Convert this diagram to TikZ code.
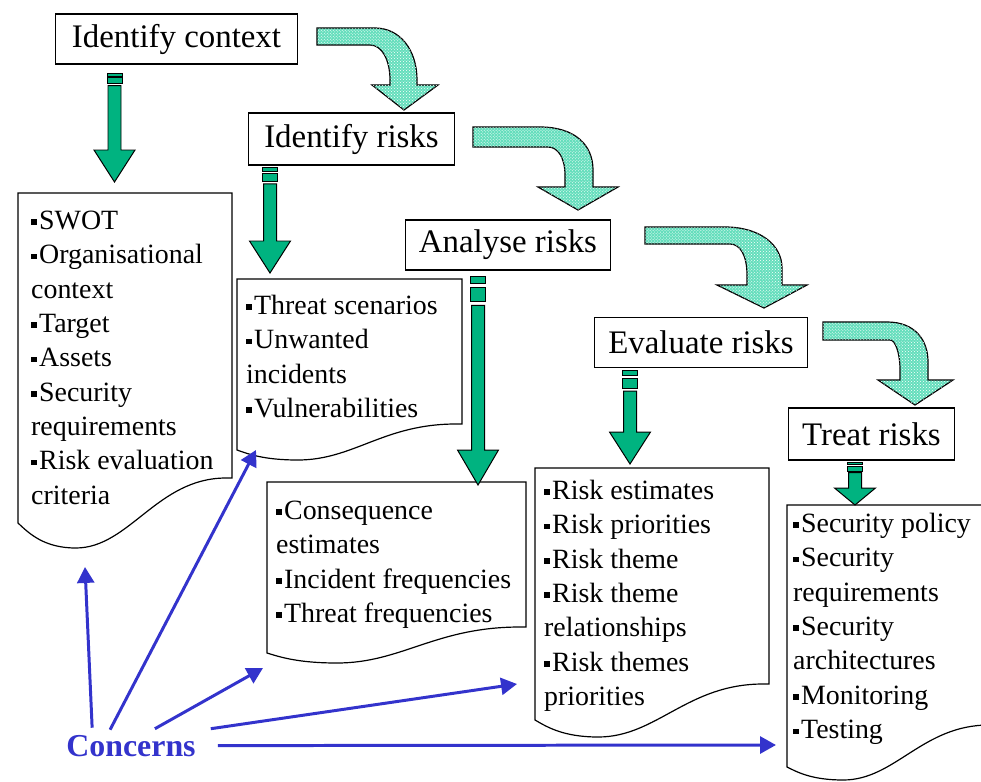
\documentclass[tikz,border=0pt]{standalone}
\usepackage{fontspec}
\setmainfont{Liberation Serif}
\usetikzlibrary{arrows.meta,patterns}
\definecolor{stripegreen}{RGB}{0,179,128}
\definecolor{bendgreen}{RGB}{100,222,188}
\definecolor{concernblue}{RGB}{51,51,204}
\def\hw{6.5}
\def\hhw{20.5}
\newcommand{\bul}{\strut\raisebox{4.5pt}{\rule{5.5pt}{5.5pt}}\kern2.5pt}
\newcommand{\stripedown}[5]{%
  \draw[stripe] (#1-7.5,#2) rectangle (#1+7.5,#2+#4);
  \draw[stripe] (#1-7.5,#2+1.6*#4) rectangle (#1+7.5,#2+3.6*#4);
  \draw[stripe] (#1-\hw,#2+4.2*#4) -- (#1+\hw,#2+4.2*#4) -- (#1+\hw,#3-#5) -- (#1+\hhw,#3-#5)
    -- (#1,#3) -- (#1-\hhw,#3-#5) -- (#1-\hw,#3-#5) -- cycle;}
\newcommand{\docbox}[6]{%
  \draw[doc] (#1,#2) -- (#3,#2) -- (#3,#4) -- (#3-6,#4)
    .. controls ({#3-0.35*(#3-#1)},#4) and ({#1+0.52*(#3-#1)},#5+#6) .. ({#1+0.27*(#3-#1)},#5+#6)
    .. controls ({#1+0.12*(#3-#1)},#5+#6) and ({#1+0.05*(#3-#1)},#5+0.4*#6) .. (#1,#5) -- cycle;}

\begin{document}
\begin{tikzpicture}[x=1bp,y=-1bp,
    title/.style={draw,line width=1.5pt,fill=white,inner sep=0pt,minimum height=50pt,font=\fontsize{33}{40}\selectfont},
    doc/.style={draw,line width=1.2pt,fill=white},
    doctext/.style={anchor=north west,inner sep=0pt,align=left,font=\fontsize{28}{34.5}\selectfont},
    stripe/.style={draw,line width=1pt,fill=stripegreen},
    bendarrow/.style={draw,line width=1.2pt,fill=bendgreen,postaction={pattern=crosshatch dots,pattern color=white}},
    concern/.style={concernblue,line width=3pt,-{Triangle[length=16pt,width=17pt]}}
  ]
  \useasboundingbox (0,0) rectangle (981,782);

  \docbox{18}{193}{232}{478}{523}{25}
  \docbox{237}{279}{462}{424}{450}{10}
  \docbox{267}{482}{526}{627}{653}{10}
  \docbox{535}{468}{769}{684}{720}{17}
  \docbox{787}{505}{995}{725}{767}{13}

  \node[doctext] (d1) at (31,205) {\bul SWOT\\\bul Organisational\\context\\\bul Target\\\bul Assets\\\bul Security\\requirements\\\bul Risk evaluation\\criteria};
  \node[doctext] (d2) at (246,290) {\bul Threat scenarios\\\bul Unwanted\\incidents\\\bul Vulnerabilities};
  \node[doctext] (d3) at (276,495) {\bul Consequence\\estimates\\\bul Incident frequencies\\\bul Threat frequencies};
  \node[doctext] (d4) at (544,475) {\bul Risk estimates\\\bul Risk priorities\\\bul Risk theme\\\bul Risk theme\\relationships\\\bul Risk themes\\priorities};
  \node[doctext] (d5) at (793,508) {\bul Security policy\\\bul Security\\requirements\\\bul Security\\architectures\\\bul Monitoring\\\bul Testing};

  \stripedown{114.5}{73}{182}{3}{32}
  \stripedown{270}{167}{273}{4}{32}
  \stripedown{478}{276}{485}{7}{35}
  \stripedown{630}{370}{464}{5}{32}
  \stripedown{855}{462}{505}{2.5}{17}

  \draw[bendarrow] (317,28) -- (375,28) .. controls (400,28) and (417,50) .. (417,80) -- (417,85) -- (438,85) -- (404,110)
    -- (372,85) -- (390,85) -- (390,80) .. controls (390,60) and (382,45) .. (370,45) -- (317,45) -- cycle;
  \draw[bendarrow] (473,127) -- (540,127) .. controls (575,127) and (593,145) .. (593,170) -- (593,187) -- (618,187) -- (578,210)
    -- (538,187) -- (565,187) -- (565,175) .. controls (565,158) and (558,147) .. (548,147) -- (473,147) -- cycle;
  \draw[bendarrow] (645,227) -- (725,227) .. controls (760,227) and (782,245) .. (782,268) -- (782,285) -- (807,285) -- (764,308)
    -- (717,285) -- (747,285) -- (747,275) .. controls (747,255) and (740,244) .. (730,244) -- (645,244) -- cycle;
  \draw[bendarrow] (823,322) -- (887,322) .. controls (915,322) and (928,340) .. (928,362) -- (928,380) -- (953,380) -- (915,405)
    -- (878,380) -- (900,380) -- (900,370) .. controls (900,352) and (895,340) .. (890,340) -- (823,340) -- cycle;

  \node[title,minimum width=243pt] (ctx) at (176.5,39) {Identify context};
  \node[title,minimum width=207pt,minimum height=52pt] (idr) at (351.5,139) {Identify risks};
  \node[title,minimum width=206pt] (anr) at (508,245) {Analyse risks};
  \node[title,minimum width=214pt] (evr) at (701,342.5) {Evaluate risks};
  \node[title,minimum width=167pt,minimum height=52pt] (trr) at (871.5,434) {Treat risks};

  \node[anchor=base,inner sep=2pt,text=concernblue,font=\fontsize{32}{36}\selectfont\bfseries] (con) at (131,756) {Concerns};
  \coordinate (t1) at (85,567);
  \coordinate (t2) at (256,450);
  \coordinate (t3) at (263,668);
  \coordinate (t4) at (517,684);
  \coordinate (t5) at (776,745);
  \draw[concern] ([xshift=-39pt,yshift=5pt]con.north) -- (t1);
  \draw[concern] ([xshift=-21pt,yshift=3pt]con.north) -- (t2);
  \draw[concern] ([xshift=24pt,yshift=4pt]con.north) -- (t3);
  \draw[concern] ([xshift=13pt,yshift=4pt]con.north east) -- (t4);
  \draw[concern] ([xshift=20pt]con.east) -- (t5);
\end{tikzpicture}
\end{document}
